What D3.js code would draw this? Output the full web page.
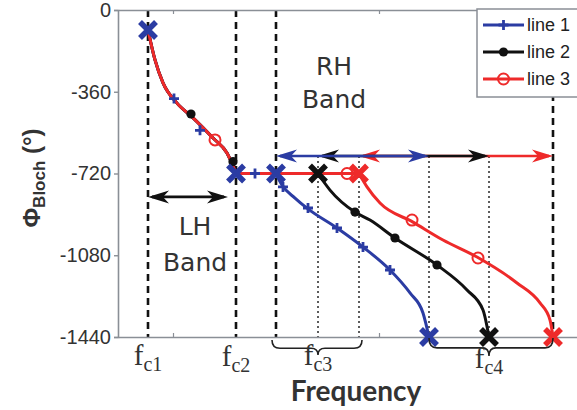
<!DOCTYPE html>
<html><head><meta charset="utf-8">
<script src="https://cdn.jsdelivr.net/npm/d3@7"></script>
<style>body{margin:0;background:#fff}svg{display:block}</style>
</head><body>
<svg id="c" width="577" height="410"></svg>
<script>
// ---- data (frequency in arbitrary units, phase in degrees) ----
const yTicks = [0, -360, -720, -1080, -1440];
const xMinorTicks = [11, 52.2];
const seriesNames = ["line 1", "line 2", "line 3"];
const seriesColors = ["#2b3ca3", "#111111", "#ee2a2a"];

// shared left-handed band
const lhFreq  = [6.0, 7.4, 9.0, 11.8, 14.8, 19.0, 21.8, 23.6];
const lhPhase = [-88, -220, -321, -410, -471, -564, -630, -720];

// right-handed bands
const line1Freq  = [31.6, 32.8, 35.4, 38.0, 43.8, 49.0, 54.4, 58.4, 61.0, 62.2];
const line1Phase = [-720, -771, -828, -876, -960, -1044, -1145, -1246, -1334, -1440];
const line2Freq  = [40.0, 42.4, 47.4, 50.4, 55.4, 63.8, 69.8, 73.0, 74.2];
const line2Phase = [-720, -793, -890, -925, -1004, -1123, -1233, -1321, -1440];
const line3Freq  = [48.2, 49.8, 52.4, 59.0, 65.0, 71.8, 79.8, 84.4, 86.4, 87.0];
const line3Phase = [-720, -779, -850, -934, -1013, -1088, -1202, -1290, -1365, -1440];

// markers
const mark1Freq  = [11.2, 16.4, 27.4, 33.0, 38.0, 43.8, 49.0, 54.4];
const mark1Phase = [-390, -530, -720, -779, -872, -960, -1044, -1145];
const mark2Freq  = [14.6, 23.0, 47.4, 55.4, 63.8];
const mark2Phase = [-458, -668, -890, -1004, -1123];
const mark3Freq  = [19.4, 45.8, 58.8, 72.0];
const mark3Phase = [-572, -720, -925, -1092];

// band-edge X markers
const edgeFreq   = [6.0, 23.6, 31.6, 40.0, 48.2, 62.2, 74.2, 87.0];
const edgePhase  = [-88, -720, -720, -720, -720, -1440, -1440, -1440];
const edgeSeries = [0, 0, 0, 1, 2, 0, 1, 2];

const dashedFreq = [6.0, 23.6, 31.6, 87.0];
const dottedFreq = [40.0, 48.2, 62.2, 74.2];
const rhArrowFrom = [31.6, 40.0, 48.2];
const rhArrowTo   = [62.2, 74.2, 87.0];
const rhArrowPhase = -643;
const lhArrow = [6.0, 22.0];
const lhArrowPhase = -823;

// ---- drawing ----
const svg = d3.select("#c");
const x = d3.scaleLinear().domain([0, 91.8]).range([118, 577]);
const y = d3.scaleLinear().domain([-1440, 0]).range([337, 10]);
const axisColor = "#8a8f96";
const textColor = "#333";

// dashed and dotted guide lines
svg.append("g").selectAll("line").data(dashedFreq).join("line")
  .attr("x1", d => x(d)).attr("x2", d => x(d)).attr("y1", y(0)).attr("y2", y(-1440))
  .attr("stroke", "#111").attr("stroke-width", 2.6).attr("stroke-dasharray", "7,5");
svg.append("g").selectAll("line").data(dottedFreq).join("line")
  .attr("x1", d => x(d)).attr("x2", d => x(d)).attr("y1", y(rhArrowPhase)).attr("y2", y(-1440))
  .attr("stroke", "#333").attr("stroke-width", 1.6).attr("stroke-dasharray", "2,3");

// axes
const yAxis = d3.axisLeft(y).tickValues(yTicks).tickSize(4).tickPadding(3).tickFormat(d => String(d));
const gy = svg.append("g").attr("transform", `translate(${x(0)},0)`).call(yAxis);
gy.select(".domain").attr("stroke", axisColor).attr("stroke-width", 1.6);
gy.selectAll(".tick line").attr("stroke", axisColor).attr("stroke-width", 1.4);
gy.selectAll(".tick text").attr("font-family", "Liberation Sans, Arial, sans-serif")
  .attr("font-size", 20).attr("fill", textColor);

const xAxis = d3.axisBottom(x).tickValues(xMinorTicks).tickSizeInner(-4).tickSizeOuter(0).tickFormat("");
const gx = svg.append("g").attr("transform", `translate(0,${y(-1440)})`).call(xAxis);
gx.select(".domain").attr("stroke", axisColor).attr("stroke-width", 1.6);
gx.selectAll(".tick line").attr("stroke", axisColor).attr("stroke-width", 1.2);
const xTop = d3.axisTop(x).tickValues(xMinorTicks).tickSizeInner(-4).tickSizeOuter(0).tickFormat("");
const gt = svg.append("g").attr("transform", `translate(0,${y(0)})`).call(xTop);
gt.select(".domain").attr("stroke", axisColor).attr("stroke-width", 1.6);
gt.selectAll(".tick line").attr("stroke", axisColor).attr("stroke-width", 1.2);

// arrows
function arrowHead(g, tx, ty, dir, color) {
  const L = 21, W = 6.5, N = 15;
  const p = [[0,0],[-L*dir,-W],[-N*dir,0],[-L*dir,W]].map(q => [tx+q[0], ty+q[1]]);
  g.append("path").attr("d", "M" + p.join("L") + "Z").attr("fill", color);
}
function dblArrow(f0, f1, ph, color) {
  const g = svg.append("g");
  const x0 = x(f0), x1 = x(f1), yy = y(ph);
  g.append("line").attr("x1", x0 + 4).attr("x2", x1 - 4).attr("y1", yy).attr("y2", yy)
    .attr("stroke", color).attr("stroke-width", 2.6);
  arrowHead(g, x0, yy, -1, color);
  arrowHead(g, x1, yy, 1, color);
}
for (let i = 2; i >= 0; i--) dblArrow(rhArrowFrom[i], rhArrowTo[i], rhArrowPhase, seriesColors[i]);
dblArrow(lhArrow[0], lhArrow[1], lhArrowPhase, "#111");

// curves
const gen = d3.line().x(d => x(d[0])).y(d => y(d[1])).curve(d3.curveMonotoneX);
const lhPts = d3.zip(lhFreq, lhPhase);
const rhSets = [d3.zip(line1Freq, line1Phase), d3.zip(line2Freq, line2Phase), d3.zip(line3Freq, line3Phase)];
rhSets.forEach((pts, i) => {
  const d = gen(lhPts) + gen(pts).replace(/^M/, "L");
  svg.append("path").attr("d", d).attr("fill", "none")
    .attr("stroke", seriesColors[i]).attr("stroke-width", 3);
});

// markers
function plus(g, cx, cy, color, s) {
  g.append("path").attr("d", `M${cx-s},${cy}H${cx+s}M${cx},${cy-s}V${cy+s}`)
    .attr("stroke", color).attr("stroke-width", 2.8);
}
function dot(g, cx, cy, color) {
  g.append("circle").attr("cx", cx).attr("cy", cy).attr("r", 4.6).attr("fill", color);
}
function ring(g, cx, cy, color) {
  g.append("circle").attr("cx", cx).attr("cy", cy).attr("r", 5.5).attr("fill", "none")
    .attr("stroke", color).attr("stroke-width", 2);
}
const gm = svg.append("g");
d3.zip(mark1Freq, mark1Phase).forEach(p => plus(gm, x(p[0]), y(p[1]), seriesColors[0], 5));
d3.zip(mark2Freq, mark2Phase).forEach(p => dot(gm, x(p[0]), y(p[1]), seriesColors[1]));
d3.zip(mark3Freq, mark3Phase).forEach(p => ring(gm, x(p[0]), y(p[1]), seriesColors[2]));

// band-edge crosses
const ge = svg.append("g");
edgeFreq.forEach((f, i) => {
  const cx = x(f), cy = y(edgePhase[i]), s = 8;
  ge.append("path").attr("d", `M${cx-s},${cy-s}L${cx+s},${cy+s}M${cx-s},${cy+s}L${cx+s},${cy-s}`)
    .attr("stroke", seriesColors[edgeSeries[i]]).attr("stroke-width", 5.5);
});

// braces under the axis
function brace(f0, f1, fm, top, depth) {
  const a = x(f0), b = x(f1), m = x(fm), t = top, h = top + depth * 0.55, tip = top + depth;
  const d = `M${a},${t}Q${a},${h} ${a+8},${h}L${m-7},${h}Q${m},${h} ${m},${tip}` +
            `Q${m},${h} ${m+7},${h}L${b-8},${h}Q${b},${h} ${b},${t}`;
  svg.append("path").attr("d", d).attr("fill", "none").attr("stroke", "#222").attr("stroke-width", 1.6);
}
brace(dashedFreq[2] - 0.8, dottedFreq[1] + 0.6, dottedFreq[0], y(-1440) + 3, 15);
brace(dottedFreq[2], dashedFreq[3], dottedFreq[3], y(-1440) + 1, 18);

// f_c labels
const fcLabels = ["c1", "c2", "c3", "c4"];
const fcFreq = [6.0, 23.6, 40.0, 74.2];
const fcBase = [365, 366, 365, 368];
fcLabels.forEach((s, i) => {
  const t = svg.append("text").attr("x", x(fcFreq[i])).attr("y", fcBase[i])
    .attr("text-anchor", "middle").attr("font-family", "Liberation Serif, Times New Roman, serif")
    .attr("fill", textColor).attr("font-size", 29);
  t.append("tspan").text("f");
  t.append("tspan").attr("font-size", 20).attr("dy", 6).text(s);
});

// band texts
const bandFont = "DejaVu Sans, Verdana, sans-serif";
function label(txt, xx, yy, size) {
  svg.append("text").attr("x", xx).attr("y", yy).attr("text-anchor", "middle")
    .attr("font-family", bandFont).attr("font-size", size).attr("fill", textColor).text(txt);
}
label("LH", x(15.4), 235, 25);
label("Band", x(15.4), 271, 25);
label("RH", x(43.2), 75, 25);
label("Band", x(43.2), 108, 25);

// axis titles
svg.append("text").attr("x", 356).attr("y", 401).attr("text-anchor", "middle")
  .attr("font-family", "Lato, Open Sans, sans-serif").attr("font-weight", "bold")
  .attr("font-size", 28).attr("fill", textColor).text("Frequency");
const yl = svg.append("text").attr("transform", "translate(40,178) rotate(-90)")
  .attr("text-anchor", "middle").attr("font-family", "Liberation Sans, Arial, sans-serif")
  .attr("font-weight", "bold").attr("fill", textColor).attr("font-size", 24);
yl.append("tspan").text("\u03A6");
yl.append("tspan").attr("font-size", 17).attr("dy", 5).text("Bloch");
yl.append("tspan").attr("dy", -5).text(" (\u00B0)");

// legend
const lg = svg.append("g");
lg.append("rect").attr("x", 477).attr("y", 9).attr("width", 130).attr("height", 88)
  .attr("fill", "#fff").attr("stroke", axisColor).attr("stroke-width", 1.5);
const legY = [25, 52, 79];
seriesNames.forEach((n, i) => {
  const yy = legY[i];
  lg.append("line").attr("x1", 483).attr("x2", 524).attr("y1", yy).attr("y2", yy)
    .attr("stroke", seriesColors[i]).attr("stroke-width", 3);
  if (i === 0) plus(lg, 503.5, yy, seriesColors[0], 5);
  if (i === 1) dot(lg, 503.5, yy, seriesColors[1]);
  if (i === 2) ring(lg, 503.5, yy, seriesColors[2]);
  lg.append("text").attr("x", 527).attr("y", yy).attr("dy", "0.35em")
    .attr("font-family", "Liberation Sans, Arial, sans-serif").attr("font-size", 18)
    .attr("fill", "#222").text(n);
});
</script>
</body></html>
